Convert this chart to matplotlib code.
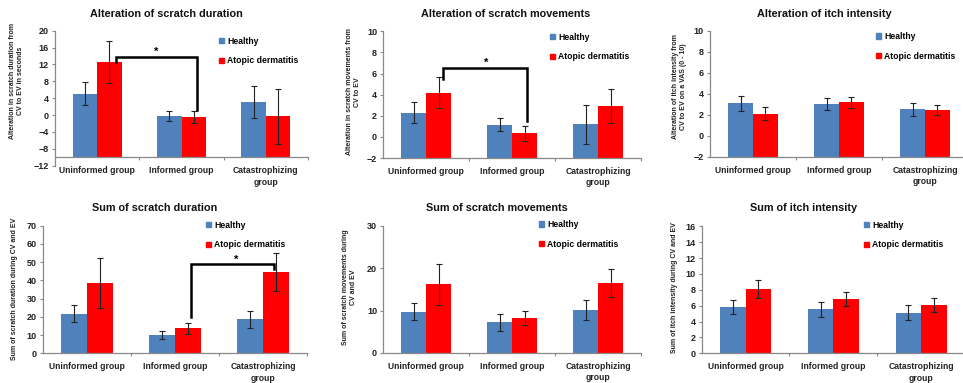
import matplotlib
matplotlib.use('Agg')
import matplotlib.pyplot as plt
from matplotlib.patches import Rectangle

plt.rcParams['font.family'] = ['Liberation Sans', 'DejaVu Sans']
plt.rcParams['axes.unicode_minus'] = True

# Gruppi e serie
groups = ['Uninformed group', 'Informed group', 'Catastrophizing\ngroup']
series = ['Healthy', 'Atopic dermatitis']
colors = ['#4F81BD', '#FF0000']

# Valori (media, errore)
dur_alt_healthy = [5.1, -0.25, 3.0]
dur_alt_healthy_err = [2.7, 1.25, 3.8]
dur_alt_ad = [12.6, -0.55, -0.25]
dur_alt_ad_err = [5.0, 1.4, 6.5]

mov_alt_healthy = [2.3, 1.14, 1.2]
mov_alt_healthy_err = [1.0, 0.62, 1.85]
mov_alt_ad = [4.2, 0.35, 2.9]
mov_alt_ad_err = [1.45, 0.7, 1.6]

itch_alt_healthy = [3.08, 3.05, 2.5]
itch_alt_healthy_err = [0.73, 0.58, 0.59]
itch_alt_ad = [2.1, 3.17, 2.45]
itch_alt_ad_err = [0.63, 0.55, 0.5]

dur_sum_healthy = [21.75, 9.9, 18.6]
dur_sum_healthy_err = [4.6, 2.3, 4.6]
dur_sum_ad = [38.4, 13.7, 44.8]
dur_sum_ad_err = [13.7, 2.9, 10.4]

mov_sum_healthy = [9.74, 7.2, 10.1]
mov_sum_healthy_err = [2.0, 1.9, 2.3]
mov_sum_ad = [16.2, 8.3, 16.6]
mov_sum_ad_err = [4.8, 1.7, 3.3]

itch_sum_healthy = [5.88, 5.55, 5.13]
itch_sum_healthy_err = [0.88, 0.97, 0.99]
itch_sum_ad = [8.1, 6.85, 6.1]
itch_sum_ad_err = [1.1, 0.88, 0.9]

W, H = 963, 383
fig = plt.figure(figsize=(W / 100, H / 100), dpi=100)
fig.patch.set_facecolor('white')


def px_axes(x0, x1, ytop, ybot):
    return fig.add_axes([x0 / W, 1 - ybot / H, (x1 - x0) / W, (ybot - ytop) / H])


def panel(rect, title, title_xy, ylabel, ylabel_xy, healthy, healthy_err, ad, ad_err,
          ylim, yticks, legend_xy, xaxis_at=None, bracket=None):
    ax = px_axes(*rect)
    # l'asse orizzontale (stile Excel) puo' incrociare sopra il minimo
    base = ylim[0] if xaxis_at is None else xaxis_at
    ax.spines['bottom'].set_position(('data', base))
    x = range(len(groups))
    bw = 0.29
    ekw = dict(ecolor='#222222', elinewidth=0.8, capsize=2.5, capthick=0.8)
    ax.bar([i - bw / 2 for i in x], [v - base for v in healthy], bw, bottom=base,
           color=colors[0], yerr=healthy_err, error_kw=ekw)
    ax.bar([i + bw / 2 for i in x], [v - base for v in ad], bw, bottom=base,
           color=colors[1], yerr=ad_err, error_kw=ekw)
    ax.set_xlim(-0.5, 2.5)
    ax.set_ylim(*ylim)
    ax.set_yticks(yticks)
    ax.set_yticklabels([f'{t:g}'.replace('-', '\u2212') for t in yticks],
                       fontsize=6.5, fontweight='bold', color='#222222')
    ax.set_xticks(list(x))
    ax.set_xticklabels(groups, fontsize=6.2, fontweight='bold', color='#222222',
                       linespacing=1.35)
    ax.set_xticks([0.5, 1.5, 2.5], minor=True)
    ax.tick_params(axis='x', which='major', length=0, pad=6.5)
    ax.tick_params(axis='x', which='minor', length=2.5, color='#888888', width=0.8)
    ax.tick_params(axis='y', length=2.5, color='#888888', width=0.8, pad=2)
    for s in ['top', 'right']:
        ax.spines[s].set_visible(False)
    for s in ['left', 'bottom']:
        ax.spines[s].set_color('#888888')
        ax.spines[s].set_linewidth(0.9)
    ax.set_facecolor('none')

    fig.text(title_xy[0] / W, 1 - title_xy[1] / H, title, ha='center', va='center',
             fontsize=7.8, fontweight='bold', color='#111111')
    fig.text(ylabel_xy[0] / W, 1 - ylabel_xy[1] / H, ylabel, ha='center', va='center',
             rotation=90, fontsize=5, fontweight='bold', color='#222222',
             multialignment='center', linespacing=1.2)

    handles = [Rectangle((0, 0), 1, 1, color=c) for c in colors]
    ax.legend(handles, series, loc='upper left',
              bbox_to_anchor=(legend_xy[0] / W, 1 - legend_xy[1] / H),
              bbox_transform=fig.transFigure, frameon=False,
              prop=dict(size=6.2, weight='bold'), handlelength=0.55,
              handleheight=0.55, handletextpad=0.4, labelspacing=1.25,
              borderpad=0, borderaxespad=0)

    if bracket is not None:
        x0, x1, ytop, yl, yr, xs = bracket
        ax.plot([x0, x0, x1, x1], [yl, ytop, ytop, yr], color='black', lw=1.8,
                solid_joinstyle='miter', clip_on=False)
        ax.text(xs, ytop, '*', ha='center', va='bottom', fontsize=8,
                fontweight='bold')
    return ax


panel((55, 308, 30.7, 165.7), 'Alteration of scratch duration', (166, 14),
      'Alteration in scratch duration from\nCV to EV in seconds', (17, 81),
      dur_alt_healthy, dur_alt_healthy_err, dur_alt_ad, dur_alt_ad_err,
      (-12, 20), list(range(-12, 21, 4)), (219, 36.5), xaxis_at=-10,
      bracket=(0.22, 1.18, 13.7, 12.6, 1.3, 0.70))

panel((383.3, 641, 31.3, 158), 'Alteration of scratch movements', (506, 14),
      'Alteration in scratch movements from\nCV to EV', (353, 92),
      mov_alt_healthy, mov_alt_healthy_err, mov_alt_ad, mov_alt_ad_err,
      (-2, 10), list(range(-2, 11, 2)), (550, 32.5),
      bracket=(0.20, 1.17, 6.57, 5.46, 1.55, 0.70))

panel((710, 968, 30.7, 156.7), 'Alteration of itch intensity', (824, 14),
      'Alteration of itch intensity from\nCV to EV on a VAS (0 - 10)', (679, 87),
      itch_alt_healthy, itch_alt_healthy_err, itch_alt_ad, itch_alt_ad_err,
      (-2, 10), list(range(-2, 11, 2)), (876, 32))

panel((43, 307, 225.7, 353.3), 'Sum of scratch duration', (155, 208),
      'Sum of scratch duration during CV and EV', (15, 289),
      dur_sum_healthy, dur_sum_healthy_err, dur_sum_ad, dur_sum_ad_err,
      (0, 70), list(range(0, 71, 10)), (206, 220.5),
      bracket=(1.18, 2.125, 48.8, 20.1, 46.3, 1.69))

panel((383.3, 641, 225.7, 353), 'Sum of scratch movements', (497, 208),
      'Sum of scratch movements during\nCV and EV', (349, 287),
      mov_sum_healthy, mov_sum_healthy_err, mov_sum_ad, mov_sum_ad_err,
      (0, 30), list(range(0, 31, 10)), (539, 220))

panel((701.7, 965, 226.3, 353.3), 'Sum of itch intensity', (803, 208),
      'Sum of itch intensity during CV and EV', (675, 288),
      itch_sum_healthy, itch_sum_healthy_err, itch_sum_ad, itch_sum_ad_err,
      (0, 16), list(range(0, 17, 2)), (864, 220.5))

fig.savefig('out.png', dpi=100, facecolor='white')
